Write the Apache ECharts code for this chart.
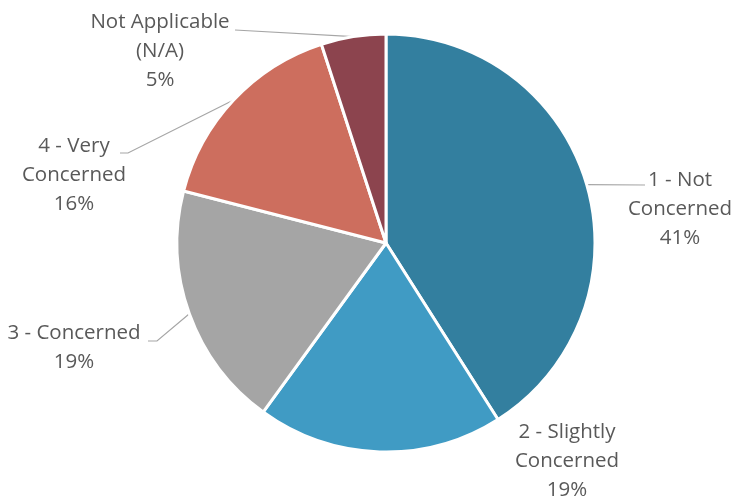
<!DOCTYPE html>
<html>
<head>
<meta charset="utf-8">
<script src="https://cdn.jsdelivr.net/npm/echarts@6/dist/echarts.min.js"></script>
<style>
  html, body { margin: 0; padding: 0; background: #fff; }
  #chart { width: 737px; height: 499px; }
</style>
</head>
<body>
<div id="chart"></div>
<script>
// Survey responses, clockwise from 12 o'clock
const categories = [
  '1 - Not\nConcerned',
  '2 - Slightly\nConcerned',
  '3 - Concerned',
  '4 - Very\nConcerned',
  'Not Applicable\n(N/A)'
];
const shares = [41, 19, 19, 16, 5];
const sliceColors = ['#337F9F', '#409BC4', '#A5A5A5', '#CD6E5E', '#8C444E'];

// Label block placement: centre x, top y, and where the leader line bends / ends
const labelSpots = [
  { x: 680, y: 166, bend: [645, 185], end: [645, 185] },
  { x: 567, y: 418, bend: null, end: null },
  { x: 74,  y: 319, bend: [157, 341], end: [148, 341] },
  { x: 74,  y: 132, bend: [128, 153], end: [120, 153] },
  { x: 160, y: 8,   bend: [235, 30],  end: [235, 30] }
];

const chart = echarts.init(document.getElementById('chart'), null, { renderer: 'canvas' });

chart.setOption({
  animation: false,
  color: sliceColors,
  series: [{
    type: 'pie',
    center: [386, 243],
    radius: [0, 209],
    startAngle: 90,
    clockwise: true,
    itemStyle: { borderColor: '#ffffff', borderWidth: 3 },
    label: {
      show: true,
      position: 'outside',
      formatter: '{b}\n{d}%',
      fontFamily: '"Open Sans", sans-serif',
      fontSize: 20.5,
      lineHeight: 29,
      color: '#595959',
      align: 'center'
    },
    labelLine: {
      show: true,
      length: 20,
      length2: 10,
      smooth: false,
      lineStyle: { color: '#A6A6A6', width: 1.2 }
    },
    labelLayout: function (params) {
      const s = labelSpots[params.dataIndex];
      const out = { x: s.x, y: s.y, align: 'center', verticalAlign: 'top' };
      if (s.bend && params.labelLinePoints) {
        // keep the anchor on the slice edge, route the rest of the leader
        out.labelLinePoints = [params.labelLinePoints[0], s.bend, s.end];
      }
      return out;
    },
    data: categories.map((name, i) => ({
      name: name,
      value: shares[i],
      labelLine: { show: labelSpots[i].bend !== null }
    }))
  }]
});
</script>
</body>
</html>
